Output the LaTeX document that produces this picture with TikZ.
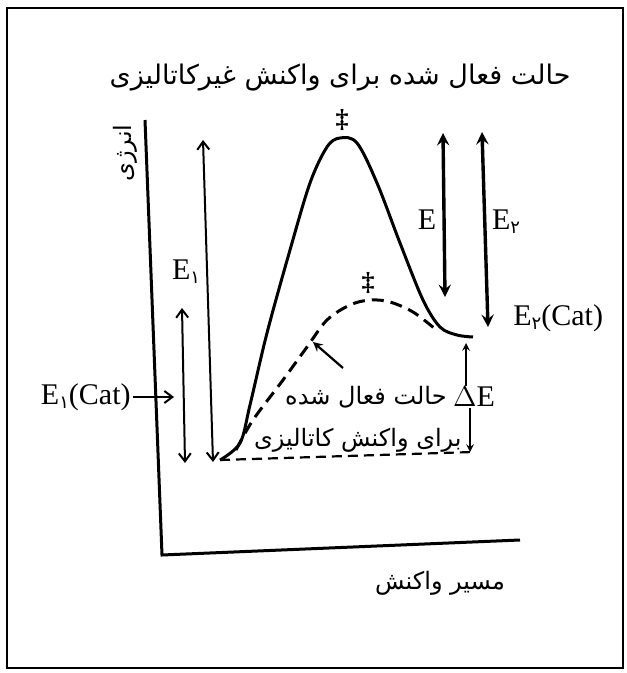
\documentclass[tikz,border=0pt]{standalone}
\usepackage{fontspec}
\setmainfont{Liberation Serif}
\newfontfamily\farsi[Script=Arabic]{DejaVu Sans}
\TeXXeTstate=1
\usetikzlibrary{arrows, arrows.meta, positioning, calc}

\newcommand{\fa}[1]{{\farsi\beginR #1\endR}}
\newcommand{\pdig}[1]{\raisebox{-2pt}{\farsi\fontsize{9}{9}\selectfont #1}}

\begin{document}
\begin{tikzpicture}[x=0.5pt, y=-0.5pt, >=stealth]
    \tikzset{
        barb/.tip={Straight Barb[length=4pt, width=6pt, line width=1pt]},
        dim/.style={barb-barb, line width=1pt},
        bigdim/.style={<->, line width=1.7pt},
        lbl/.style={font=\fontsize{15}{17}\selectfont, inner sep=1pt},
        falbl/.style={font=\farsi\fontsize{12}{14}\selectfont, inner sep=1pt}
    }
    \useasboundingbox (0,0) rectangle (626,673);

    % Frame
    \draw[line width=1.3pt] (7,8) rectangle (623,668);

    % Axes
    \coordinate (Ytop) at (145,120);
    \coordinate (O) at (162,555);
    \coordinate (Xend) at (520,540);
    \draw[line width=1.5pt] (Ytop) -- (O) -- (Xend);
    \node[falbl, rotate=90] (ylab) at (125,153) {\fa{انرژی}};
    \node[falbl] (xlab) at (440,583) {\fa{مسیر واکنش}};

    % Reaction paths
    \coordinate (R) at (220,460);
    \coordinate (P) at (473,337);
    \draw[line width=1.5pt] plot[smooth, tension=0.55] coordinates {
        (R) (240,443) (250,405) (267,333) (290,250) (310,183) (327,147)
        (340,138) (357,143) (377,183) (400,243) (423,300) (440,327)
        (457,335) (P)};
    \draw[line width=1.5pt, dash pattern=on 6pt off 3.5pt] plot[smooth, tension=0.55] coordinates {
        (236,450) (253,420) (283,380) (307,347) (327,320) (350,305)
        (370,300) (390,302) (413,312) (434,328)};
    \coordinate (B) at (473,452);
    \draw[line width=1.1pt, dash pattern=on 5pt off 3pt] (R) -- (B);

    % Transition states
    \node[font=\bfseries\fontsize{13}{13}\selectfont] (ts1) at (342,120) {\ddag};
    \node[font=\bfseries\fontsize{13}{13}\selectfont] (ts2) at (368,283) {\ddag};
    \node[falbl, font=\farsi\fontsize{13.5}{15}\selectfont] (tsa) at (340,78) {\fa{حالت فعال شده برای واکنش غیرکاتالیزی}};

    % Energy arrows
    \coordinate (E1t) at (203,140);
    \coordinate (E1b) at (213,462);
    \draw[dim] (E1t) -- (E1b);
    \node[lbl] (E1) at (186,272) {E\pdig{۱}};

    \coordinate (E1ct) at (182,308);
    \coordinate (E1cb) at (185,463);
    \draw[dim] (E1ct) -- (E1cb);
    \node[lbl, anchor=east] (E1c) at (133,397) {E\pdig{۱}(Cat)};
    \coordinate (E1cp) at (174,397);
    \draw[-barb, line width=1pt] (E1c) -- (E1cp);

    \coordinate (Et) at (443,133);
    \coordinate (Eb) at (445,297);
    \draw[bigdim] (Et) -- (Eb);
    \node[lbl] (E) at (427,220) {E};

    \coordinate (E2t) at (482,132);
    \coordinate (E2b) at (488,327);
    \draw[bigdim] (E2t) -- (E2b);
    \node[lbl] (E2) at (506,222) {E\pdig{۲}};
    \node[lbl, anchor=west] (E2c) at (511,318) {E\pdig{۲}(Cat)};

    % Delta E
    \node[lbl, inner sep=0.5pt] (dE) at (474,397) {$\Delta$E};
    \coordinate (dEt) at (466,343);
    \coordinate (dEb) at (470,452);
    \draw[->, line width=0.7pt] (dE.north -| dEt) -- (dEt);
    \draw[->, line width=0.7pt] (dE.south -| dEb) -- (dEb);

    % Catalysed transition state
    \node[falbl, anchor=east] (tsb1) at (449,397) {\fa{حالت فعال شده}};
    \node[falbl, anchor=east] (tsb2) at (464,440) {\fa{برای واکنش کاتالیزی}};
    \coordinate (tsbp) at (313,342);
    \coordinate (tsbq) at (343,368);
    \draw[->, line width=1.1pt] (tsbq) -- (tsbp);
\end{tikzpicture}
\end{document}
